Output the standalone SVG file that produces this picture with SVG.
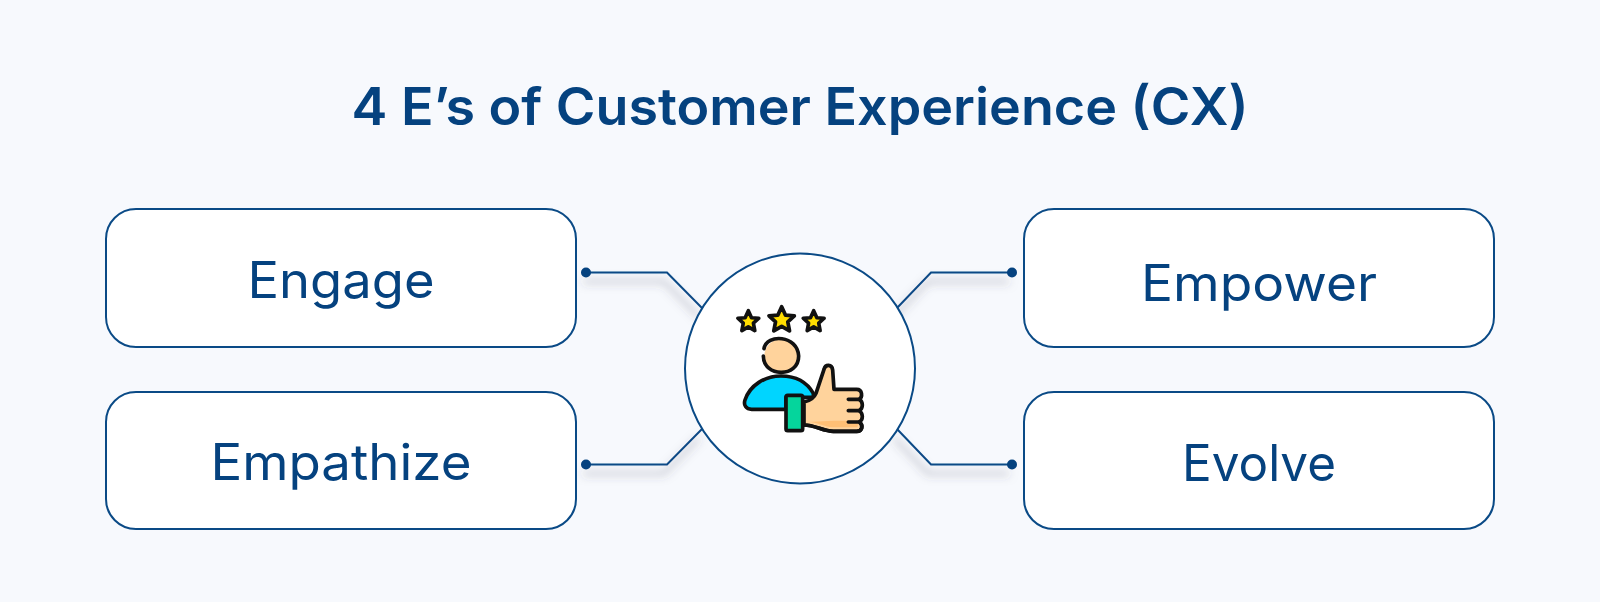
<svg xmlns="http://www.w3.org/2000/svg" width="1600" height="602" viewBox="0 0 1600 602">
<style>
.box{fill:#fff;stroke:#0a4a86;stroke-width:2}
.lbl{font-family:"Inter","Open Sans","Liberation Sans",sans-serif;font-size:50px;fill:#05427f;text-anchor:middle}
.ttl{font-family:"Inter","Open Sans","Liberation Sans",sans-serif;font-size:52px;font-weight:600;fill:#05427f;text-anchor:middle}
.con{fill:none;stroke:#0a4a86;stroke-width:2}
.dot{fill:#05427f}
.k{stroke:#111;stroke-width:11;stroke-linejoin:round;stroke-linecap:round}
</style>
<defs>
<filter id="sh" x="-30%" y="-60%" width="160%" height="260%"><feDropShadow dx="-3" dy="9" stdDeviation="5" flood-color="#445" flood-opacity=".55"/></filter>
<polygon id="star" points="0,-1 .29,-.36 .95,-.31 .46,.14 .59,.81 0,.47 -.59,.81 -.46,.14 -.95,-.31 -.29,-.36"/>
</defs>
<rect width="1600" height="602" fill="#f7f9fd"/>
<text id="title" class="ttl" x="800" y="125" textLength="897" lengthAdjust="spacingAndGlyphs">4 E’s of Customer Experience (CX)</text>
<g id="connectors">
<g filter="url(#sh)">
<path class="con" d="M586,272.500H667L702,308"/>
<path class="con" d="M586,464.500H667L702,429"/>
<path class="con" d="M1012,272.500H931L897,308"/>
<path class="con" d="M1012,464.500H931L897,429"/>
</g>
<circle class="dot" cx="586" cy="272.500" r="5"/>
<circle class="dot" cx="586" cy="464.500" r="5"/>
<circle class="dot" cx="1012" cy="272.500" r="5"/>
<circle class="dot" cx="1012" cy="464.500" r="5"/>
</g>
<g id="engage"><rect class="box" x="106" y="209" width="470" height="138" rx="30"/><text class="lbl" x="341" y="298" textLength="187" lengthAdjust="spacingAndGlyphs">Engage</text></g>
<g id="empathize"><rect class="box" x="106" y="392" width="470" height="137" rx="30"/><text class="lbl" x="341" y="480" textLength="261" lengthAdjust="spacingAndGlyphs">Empathize</text></g>
<g id="empower"><rect class="box" x="1024" y="209" width="470" height="138" rx="30"/><text class="lbl" x="1259" y="301" textLength="236" lengthAdjust="spacingAndGlyphs">Empower</text></g>
<g id="evolve"><rect class="box" x="1024" y="392" width="470" height="137" rx="30"/><text class="lbl" x="1259" y="481" textLength="154" lengthAdjust="spacingAndGlyphs">Evolve</text></g>
<g id="center">
<circle cx="800" cy="368.500" r="115" fill="#fff" stroke="#0a4a86" stroke-width="2"/>
<g transform="translate(700 290) scale(.33333)">
<use href="#star" class="k" fill="#ffdd00" transform="translate(145 95) scale(33)" style="stroke-width:.33"/>
<use href="#star" class="k" fill="#ffdd00" transform="translate(245 90) scale(40)" style="stroke-width:.28"/>
<use href="#star" class="k" fill="#ffdd00" transform="translate(341 95) scale(33)" style="stroke-width:.33"/>
<circle cx="243" cy="198" r="50" fill="#ffd39c"/>
<path d="M262,152A50,50 0 0 1 262,244A50,50 0 0 0 262,152Z" fill="#ffbf75"/>
<path class="k" fill="none" d="M192,176C200,130 293,135 296,198C296,265 190,262 190,198"/>
<path class="k" fill="#00d5ff" d="M258,358H155C138,358 130,345 135,330C150,285 195,258 243,258C285,258 320,275 340,310L340,322H258Z"/>
<path class="k" fill="#ffd39c" d="M312,336C330,332 342,325 348,310L372,238C376,222 396,222 398,240L402,298H470C488,298 488,322 478,328C490,335 490,355 478,362C490,370 490,390 478,396C490,405 488,424 470,424H400C370,424 345,405 312,405Z"/>
<path d="M325,396C350,396 370,410 400,412H472L476,396L470,392H400Z" fill="#ffbf75"/>
<path class="k" fill="none" d="M312,405C345,405 370,424 400,424H470C488,424 490,405 478,396M445,328H478M445,362H478M445,396H478"/>
<rect class="k" x="258" y="316" width="50" height="106" rx="5" fill="#05d59c"/>
</g>
</g>
</svg>
